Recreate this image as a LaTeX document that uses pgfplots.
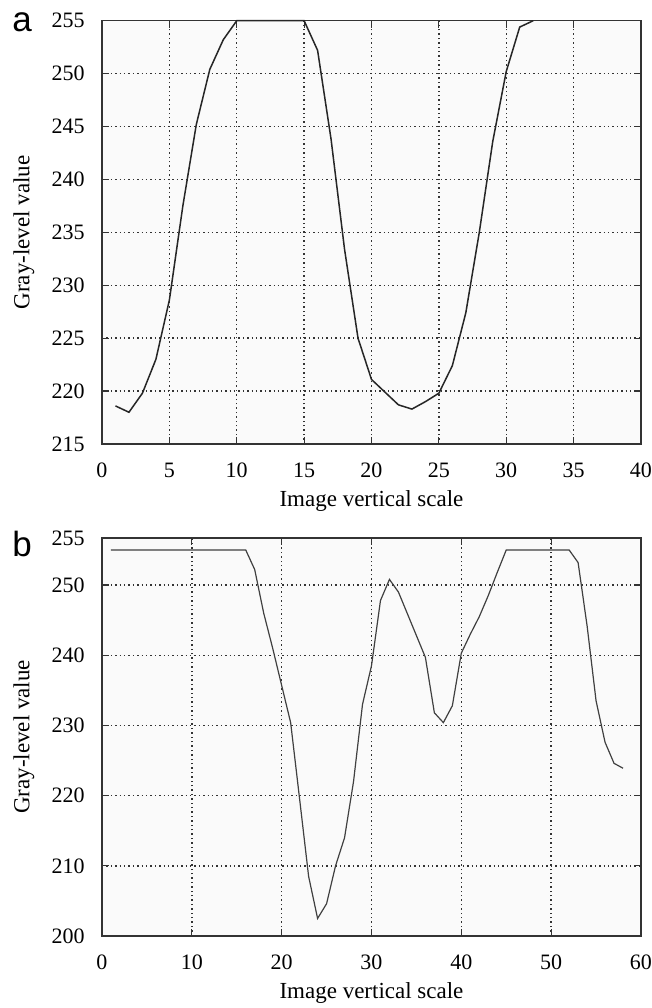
\documentclass[border=0pt]{standalone}
\usepackage{fontspec}
\setmainfont{Liberation Serif}
\newfontfamily\labelfont{Liberation Sans}
\usepackage{pgfplots}
\pgfplotsset{compat=1.18}

\pgfplotsset{
  grayplot/.style={
    width=269.5pt, scale only axis,
    /pgf/number format/assume math mode=true,
    xticklabel={\pgfmathprintnumber{\tick}},
    yticklabel={\pgfmathprintnumber{\tick}},
    font=\fontsize{11}{13}\selectfont,
    axis background/.style={fill=gray!4},
    axis line style={black!80, line width=0.75pt},
    grid=major,
    major grid style={black!80, line width=0.7pt, dash pattern=on 0.7pt off 1.5pt},
    tick style={black!80, line width=0.6pt},
    major tick length=3.5pt,
    tick align=inside,
    xticklabel style={anchor=center, yshift=-13pt},
    yticklabel style={anchor=east, inner sep=0pt, xshift=-8.5pt},
    every axis x label/.style={at={([yshift=-31.4pt]axis description cs:0.5,0)}, anchor=base, font=\fontsize{11.5}{13}\selectfont},
    every axis y label/.style={at={([xshift=-39pt]axis description cs:0,0.5)}, anchor=center, rotate=90, font=\fontsize{11.5}{13}\selectfont},
    ylabel={Gray-level value},
    xlabel={Image vertical scale},
    clip=false,
  },
}
\tikzset{panel/.style={anchor=base, font=\labelfont\fontsize{17.5}{20}\selectfont}}

\begin{document}
\begin{tikzpicture}
% (a)
\begin{axis}[grayplot,
    height=211.65pt,
    xmin=0, xmax=40, ymin=215, ymax=255,
    xtick={0,5,...,40}, ytick={215,220,...,255},
]
\addplot[black!85, line width=0.75pt] coordinates {
  (1,218.6) (2,218.0) (3,219.8) (4,223.0) (5,228.6) (6,237.5) (7,245.2)
  (8,250.4) (9,253.2) (10,255) (11,255) (12,255) (13,255) (14,255)
  (15,255) (16,252.2) (17,243.8) (18,233.4) (19,225.0) (20,221.1)
  (21,219.9) (22,218.7) (23,218.3) (24,219.0) (25,219.8) (26,222.4)
  (27,227.4) (28,235.0) (29,243.6) (30,250.2) (31,254.4) (32,255)
};
\node[panel] at ([xshift=-40pt, yshift=-5.6pt]rel axis cs:0,1) {a};
\end{axis}

% (b)
\begin{axis}[grayplot, at={(0,-47pt)}, anchor=north west,
    height=199pt,
    xmin=0, xmax=60, ymin=200, ymax=256.7,
    xtick={0,10,...,60}, ytick={200,210,...,250},
    extra y ticks={256.7}, extra y tick labels={255},
    extra y tick style={grid=none, major tick length=0pt},
]
\addplot[black!75, line width=0.6pt] coordinates {
  (1,255.0) (16,255.0) (17,252.2) (18,246.0) (19,241.0) (20,235.7)
  (21,230.4) (22,219.5) (23,208.5) (24,202.5) (25,204.6) (26,210.0)
  (27,214.0) (28,222.0) (29,233.0) (30,238.5) (31,247.8) (32,250.8)
  (33,249.0) (34,245.9) (35,242.8) (36,239.7) (37,231.8) (38,230.4)
  (39,232.8) (40,240.3) (41,243.0) (42,245.5) (43,248.5) (44,251.8)
  (45,255.0) (52,255.0) (53,253.2) (54,244.2) (55,233.5) (56,227.6)
  (57,224.6) (58,223.9)
};
\node[panel] at ([xshift=-40pt, yshift=-9pt]rel axis cs:0,1) {b};
\end{axis}
\pgfresetboundingbox
\useasboundingbox (-51pt,-282pt) rectangle (275pt,222pt);
\end{tikzpicture}
\end{document}
